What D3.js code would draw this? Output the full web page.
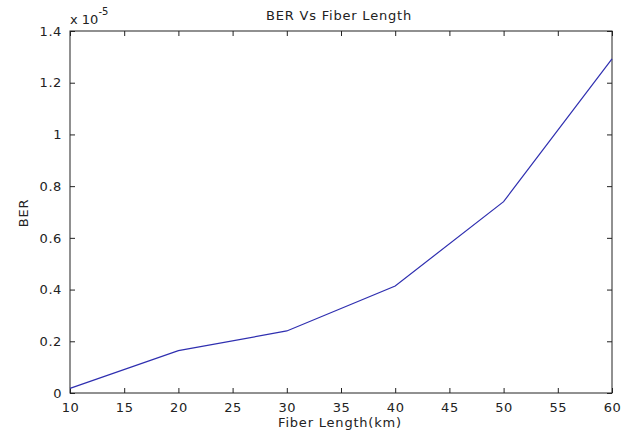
<!DOCTYPE html>
<html>
<head>
<meta charset="utf-8">
<script src="https://cdn.jsdelivr.net/npm/d3@7"></script>
<style>
  body { margin: 0; background: #fff; }
  text { font-family: "DejaVu Sans", sans-serif; font-size: 13px; fill: #222; }
</style>
</head>
<body>
<div id="chart"></div>
<script>
// fiber length (km) vs BER (x 1e-5)
const lengths = [10, 20, 30, 40, 50, 60];
const ber = [0.018, 0.164, 0.240, 0.414, 0.740, 1.292];
const xTicks = [10, 15, 20, 25, 30, 35, 40, 45, 50, 55, 60];
const yTicks = [0, 0.2, 0.4, 0.6, 0.8, 1, 1.2, 1.4];

const width = 633, height = 434;
const m = {left: 70, right: 21, top: 31, bottom: 41};

const svg = d3.select('#chart')
    .append('svg')
    .attr('width', width)
    .attr('height', height);

const x = d3.scaleLinear().domain([10, 60]).range([m.left, width - m.right]);
const y = d3.scaleLinear().domain([0, 1.4]).range([height - m.bottom, m.top]);

const axisStyle = function(g) {
  g.select('.domain').remove();
  g.selectAll('.tick line').attr('stroke', '#222');
  g.selectAll('.tick text').style('letter-spacing', '0.6px');
};

// bottom + top (mirror, no labels)
svg.append('g')
   .attr('transform', 'translate(0,' + y(0) + ')')
   .call(d3.axisBottom(x).tickValues(xTicks).tickSize(-5).tickPadding(10).tickFormat(d3.format('d')))
   .call(axisStyle);
svg.append('g')
   .attr('transform', 'translate(0,' + y(1.4) + ')')
   .call(d3.axisTop(x).tickValues(xTicks).tickSize(-5).tickFormat(''))
   .call(axisStyle);

svg.append('g')
   .attr('transform', 'translate(' + x(10) + ',0)')
   .call(d3.axisLeft(y).tickValues(yTicks).tickSize(-5).tickPadding(8).tickFormat(function(d) { return d3.format('')(d); }))
   .call(axisStyle);
svg.append('g')
   .attr('transform', 'translate(' + x(60) + ',0)')
   .call(d3.axisRight(y).tickValues(yTicks).tickSize(-5).tickFormat(''))
   .call(axisStyle);

// box
svg.append('rect')
   .attr('x', x(10)).attr('y', y(1.4))
   .attr('width', x(60) - x(10)).attr('height', y(0) - y(1.4))
   .attr('fill', 'none').attr('stroke', '#222').attr('stroke-width', 1);

const line = d3.line()
   .x(function(d, i) { return x(lengths[i]); })
   .y(function(d) { return y(d); });

svg.append('path')
   .datum(ber)
   .attr('d', line)
   .attr('fill', 'none')
   .attr('stroke', '#2f2fb0')
   .attr('stroke-width', 1.2);

// labels
svg.append('text')
   .attr('x', 339).attr('y', 20)
   .attr('text-anchor', 'middle')
   .style('letter-spacing', '0.8px')
   .text('BER Vs Fiber Length');

svg.append('text')
   .attr('x', 340).attr('y', 427)
   .attr('text-anchor', 'middle')
   .style('letter-spacing', '0.8px')
   .text('Fiber Length(km)');

svg.append('text')
   .attr('transform', 'translate(28,213) rotate(-90)')
   .attr('text-anchor', 'middle')
   .style('letter-spacing', '0.8px')
   .text('BER');

const exp = svg.append('text').attr('x', 70).attr('y', 24);
exp.append('tspan').text('x 10');
exp.append('tspan').attr('dy', -9).style('font-size', '10px').text('-5');
</script>
</body>
</html>
